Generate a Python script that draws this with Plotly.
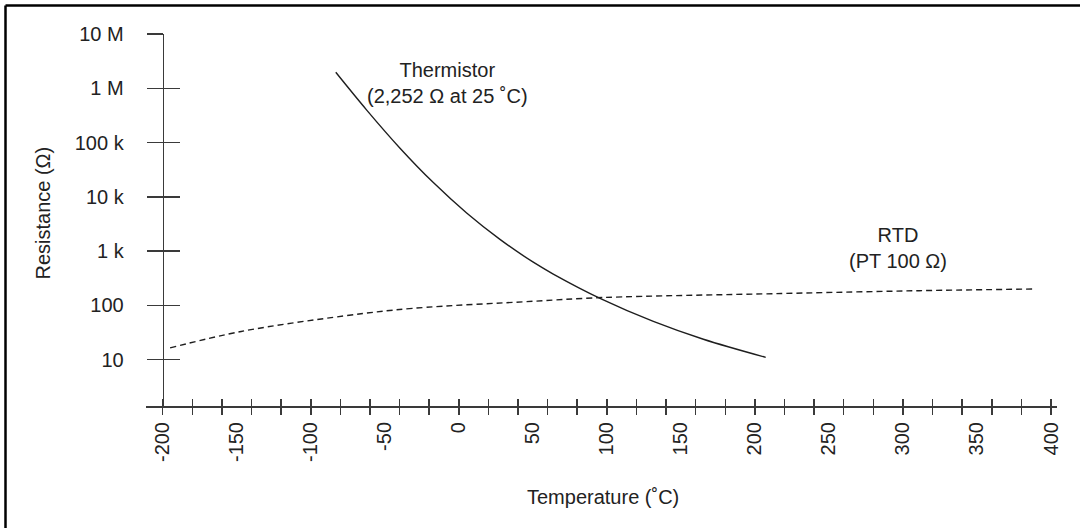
import plotly.graph_objects as go

# ---- data ----
THERM_T = [-83.1, -62.2, -39.7, -17.2, 5.3, 27.8, 50.3, 63.8, 96.5, 131.4, 165.2, 207.3]
THERM_R = [1.968e6, 3.963e5, 7.87e4, 1.826e4, 5029, 1643, 623, 377, 130, 50.5, 23.7, 11.0]

RTD_T = [-195, -147, -77, -31, 51, 97, 218, 311, 390]
RTD_R = [16.4, 33, 64, 88, 119, 139, 165, 186, 200]

X_TICK_LABEL_VALS = [-200, -150, -100, -50, 0, 50, 100, 150, 200, 250, 300, 350, 400]
X_TICK_LABELS = [str(v) for v in X_TICK_LABEL_VALS]
Y_TICK_VALS = [10, 100, 1e3, 1e4, 1e5, 1e6, 1e7]
Y_TICK_LABELS = ["10", "100", "1 k", "10 k", "100 k", "1 M", "10 M"]

# ---- layout geometry (pixels) ----
W, H = 1080, 528
L, R, T, B = 146, 1057, 34, 405.7
X_AXIS_AT = -200
PX_PER_UNIT = 1.4805
X_MIN = X_AXIS_AT - (162.7 - L) / PX_PER_UNIT
X_MAX = 400 + (R - 1051) / PX_PER_UNIT
Y_LOG_MAX = 7
Y_LOG_MIN = 7 - (B - T) / 54.22


def px(x):
    return (x - L) / (R - L)


def py(y):
    return (B - y) / (B - T)


FONT = "Liberation Sans, Arial, Helvetica, sans-serif"
TXT = "#222222"
AX = "#3a3a3a"

fig = go.Figure()
fig.add_trace(go.Scatter(x=THERM_T, y=THERM_R, mode="lines",
                         line=dict(color="#1e1e1e", width=1.4, shape="spline", smoothing=1.0),
                         showlegend=False, hoverinfo="skip"))
fig.add_trace(go.Scatter(x=RTD_T, y=RTD_R, mode="lines",
                         line=dict(color="#1e1e1e", width=1.4, dash="6px,4px", shape="spline"),
                         showlegend=False, hoverinfo="skip"))
# empty traces to make the overlay axes exist
fig.add_trace(go.Scatter(x=[], y=[], xaxis="x2", yaxis="y2", showlegend=False))
fig.add_trace(go.Scatter(x=[], y=[], xaxis="x3", yaxis="y", showlegend=False))

y_pos = px(162.7)

common_x = dict(range=[X_MIN, X_MAX], showgrid=False, zeroline=False, fixedrange=True)
fig.update_layout(
    width=W, height=H,
    margin=dict(l=L, r=W - R, t=T, b=H - B),
    paper_bgcolor="white", plot_bgcolor="white",
    font=dict(family=FONT, size=20, color=TXT),
    xaxis=dict(**common_x, showline=True, linecolor=AX, linewidth=1.5,
               ticks="outside", ticklen=7, tickwidth=1.5, tickcolor=AX,
               tickmode="linear", tick0=-200, dtick=20, showticklabels=False),
    xaxis2=dict(**common_x, overlaying="x", anchor="y", showline=False,
                ticks="inside", ticklen=7, tickwidth=1.5, tickcolor=AX,
                tickmode="linear", tick0=-200, dtick=20, showticklabels=False),
    xaxis3=dict(**common_x, overlaying="x", anchor="y", showline=False,
                ticks="", tickmode="array", tickvals=X_TICK_LABEL_VALS,
                ticktext=X_TICK_LABELS, tickangle=-90, ticklabelstandoff=11,
                tickfont=dict(size=20, color=TXT, family=FONT)),
    yaxis=dict(type="log", range=[Y_LOG_MIN, Y_LOG_MAX], anchor="free", position=y_pos,
               showgrid=False, zeroline=False, showline=True, linecolor=AX, linewidth=1.5,
               ticks="outside", ticklen=16, tickwidth=1.5, tickcolor=AX,
               tickmode="array", tickvals=Y_TICK_VALS, ticktext=Y_TICK_LABELS,
               ticklabelstandoff=19, tickfont=dict(size=20, color=TXT, family=FONT),
               fixedrange=True),
    yaxis2=dict(type="log", range=[Y_LOG_MIN, Y_LOG_MAX], overlaying="y", anchor="free",
                position=y_pos, showgrid=False, zeroline=False, showline=False,
                ticks="inside", ticklen=16, tickwidth=1.5, tickcolor=AX,
                tickmode="array", tickvals=Y_TICK_VALS, showticklabels=False,
                fixedrange=True),
)

annots = [
    dict(text="Thermistor<br>(2,252 Ω at 25 ˚C)", x=px(447.6), y=py(83.3)),
    dict(text="RTD<br>(PT 100 Ω)", x=px(898.3), y=py(248.3)),
    dict(text="Temperature (˚C)", x=px(602.5), y=py(497)),
    dict(text="Resistance (Ω)", x=px(42.7), y=py(212.7), textangle=-90),
]
for a in annots:
    fig.add_annotation(xref="paper", yref="paper", showarrow=False,
                       xanchor="center", yanchor="middle",
                       font=dict(size=20, color=TXT, family=FONT), **a)

# frame (top and left edges visible in the reference)
fig.add_shape(type="line", xref="paper", yref="paper",
              x0=px(5.5), x1=px(1080), y0=py(5.5), y1=py(5.5),
              line=dict(color="black", width=2.5))
fig.add_shape(type="line", xref="paper", yref="paper",
              x0=px(5.5), x1=px(5.5), y0=py(5.5), y1=py(528),
              line=dict(color="black", width=2.5))

fig.write_html("out.html",
               config={"displayModeBar": False, "staticPlot": True},
               post_script="document.body.style.margin='0';document.body.style.overflow='hidden';")
